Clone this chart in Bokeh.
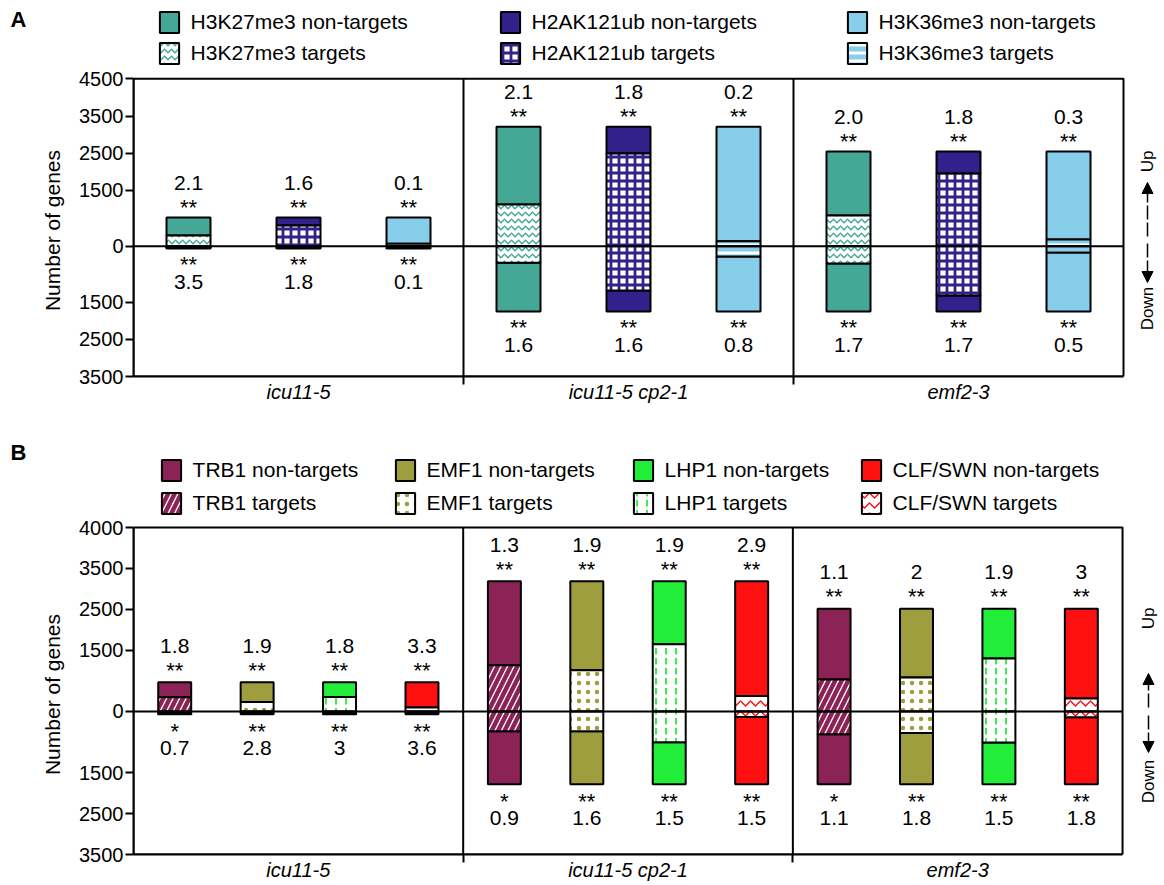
import numpy as np
from bokeh.plotting import figure
from bokeh.layouts import column, row
from bokeh.models import (ColumnDataSource, Legend, LegendItem, BoxAnnotation, Arrow,
                          NormalHead, FixedTicker, Range1d)
from bokeh.core.properties import value
from bokeh.embed import file_html
from bokeh.resources import INLINE

FONT = "Liberation Sans"

# ---------------- Panel A data ----------------
a_groups = ["icu11-5", "icu11-5 cp2-1", "emf2-3"]
a_marks = ["H3K27me3", "H2AK121ub", "H3K36me3"]
a_up_total = [770, 770, 770, 3215, 3215, 3215, 2545, 2545, 2545]
a_up_targets = [290, 560, 70, 1120, 2490, 135, 825, 1955, 180]
a_down_total = [60, 60, 60, 1755, 1755, 1755, 1755, 1755, 1755]
a_down_targets = [30, 40, 10, 440, 1190, 275, 465, 1325, 170]
a_up_fc = ["2.1", "1.6", "0.1", "2.1", "1.8", "0.2", "2.0", "1.8", "0.3"]
a_up_sig = ["**", "**", "**", "**", "**", "**", "**", "**", "**"]
a_down_fc = ["3.5", "1.8", "0.1", "1.6", "1.6", "0.8", "1.7", "1.7", "0.5"]
a_down_sig = ["**", "**", "**", "**", "**", "**", "**", "**", "**"]
a_y_ticks = [4500, 3500, 2500, 1500, 0, -1500, -2500, -3500]
a_y_tick_labels = ["4500", "3500", "2500", "1500", "0", "1500", "2500", "3500"]

# ---------------- Panel B data ----------------
b_groups = ["icu11-5", "icu11-5 cp2-1", "emf2-3"]
b_marks = ["TRB1", "EMF1", "LHP1", "CLF/SWN"]
b_up_total = [715, 715, 715, 715, 3185, 3185, 3185, 3185, 2515, 2515, 2515, 2515]
b_up_targets = [345, 230, 355, 95, 1130, 1010, 1645, 380, 780, 830, 1295, 315]
b_down_total = [70, 70, 70, 70, 1780, 1780, 1780, 1780, 1780, 1780, 1780, 1780]
b_down_targets = [40, 30, 30, 20, 485, 485, 755, 135, 560, 525, 760, 140]
b_up_fc = ["1.8", "1.9", "1.8", "3.3", "1.3", "1.9", "1.9", "2.9", "1.1", "2", "1.9", "3"]
b_up_sig = ["**", "**", "**", "**", "**", "**", "**", "**", "**", "**", "**", "**"]
b_down_fc = ["0.7", "2.8", "3", "3.6", "0.9", "1.6", "1.5", "1.5", "1.1", "1.8", "1.5", "1.8"]
b_down_sig = ["*", "**", "**", "**", "*", "**", "**", "**", "*", "**", "**", "**"]
b_y_ticks = [4500, 3500, 2500, 1500, 0, -1500, -2500, -3500]
b_y_tick_labels = ["4000", "3500", "2500", "1500", "0", "1500", "2500", "3500"]

# ---------------- styles ----------------
TEAL, NAVY, SKY = "#45A897", "#32218A", "#87CEEB"
MAROON, OLIVE, GREEN, RED = "#8B2357", "#9E9E3E", "#22EE3A", "#FF1010"

a_non_colors = [TEAL, NAVY, SKY]
a_tgt_styles = [
    dict(fill_color="white", hatch_pattern="horizontal_wave", hatch_color=TEAL, hatch_scale=7, hatch_weight=1.5),
    dict(fill_color="white", hatch_pattern="cross", hatch_color=NAVY, hatch_scale=8, hatch_weight=2.8),
    dict(fill_color=SKY, hatch_pattern="horizontal_line", hatch_color="white", hatch_scale=8, hatch_weight=3),
]
b_non_colors = [MAROON, OLIVE, GREEN, RED]
b_tgt_styles = [
    dict(fill_color="white", hatch_pattern="right_diagonal_line", hatch_color=MAROON, hatch_scale=13, hatch_weight=4.5),
    dict(fill_color="white", hatch_pattern="dot", hatch_color=OLIVE, hatch_scale=9),
    dict(fill_color="white", hatch_pattern="vertical_dash", hatch_color=GREEN, hatch_scale=10, hatch_weight=1.8),
    dict(fill_color="white", hatch_pattern="horizontal_wave", hatch_color=RED, hatch_scale=10, hatch_weight=1.5),
]

PAGE_W = 1164
STRIP_W = 70          # left strip holding the panel letter and the y-axis title
FRAME_LEFT = 133      # page x of the y axis
BAR_W = 0.4

LAYOUT_A = dict(page_top=0, height=408, border_bottom=32, px_x=110.0, px_y=0.03721,
                legend_x=[159, 500, 847], legend_rows=(21.5, 52.5), legend_spacing=5,
                letter=("A", 10, 19), ylabel_y=230, updown_x=1147, up_y=161, down_y=308,
                arrow=(182, 236, 243, 282), offs=(-34.5, -10, 16, 33.5))
LAYOUT_B = dict(page_top=408, height=477, border_bottom=31, px_x=82.42, px_y=0.040875,
                legend_x=[161, 395, 633, 861], legend_rows=(470, 503), legend_spacing=7,
                letter=("B", 10, 452), ylabel_y=694, updown_x=1148, up_y=618, down_y=781,
                arrow=(673, 707, 715, 752), offs=(-36.5, -12, 17, 33.5))


def build_panel(L, groups, marks, non_colors, tgt_styles, up_total, up_tgt, down_total,
                down_tgt, up_fc, up_sig, down_fc, down_sig, y_ticks, y_tick_labels):
    n_marks, n_groups = len(marks), len(groups)
    n = n_marks * n_groups
    xs = np.arange(n, dtype=float)
    up_total = np.array(up_total, float)
    up_tgt = np.array(up_tgt, float)
    down_total = np.array(down_total, float)
    down_tgt = np.array(down_tgt, float)

    H = L["height"]
    top = L["page_top"]
    frame_h = H - L["border_bottom"]
    frame_bottom = top + frame_h                 # page y of frame bottom
    x0 = -0.5
    x1 = x0 + (PAGE_W - FRAME_LEFT) / L["px_x"]
    y_lo, y_hi = min(y_ticks), max(y_ticks)
    y1 = y_lo + frame_h / L["px_y"]

    def ypage(Y):
        return y1 - (Y - top) / L["px_y"]

    def xpage(X):
        return x0 + (X - FRAME_LEFT) / L["px_x"]

    # ---- left strip: panel letter + y axis title (same frame height as the plot) ----
    s = figure(width=STRIP_W, height=H, x_range=Range1d(0, STRIP_W), y_range=Range1d(0, frame_h),
               x_axis_type=None, y_axis_type=None, output_backend="svg",
               toolbar_location=None, min_border_left=0, min_border_right=0,
               min_border_top=0, min_border_bottom=L["border_bottom"])
    s.outline_line_color = None
    s.xgrid.visible = False
    s.ygrid.visible = False
    letter, lx, ly = L["letter"]
    s.text(x=[lx], y=[frame_bottom - ly], text=[letter], text_font=value(FONT),
           text_font_size="22px", text_font_style="bold", text_color="black",
           text_align="left", text_baseline="alphabetic")
    s.text(x=[52], y=[frame_bottom - L["ylabel_y"]], text=["Number of genes"], angle=np.pi / 2,
           text_font=value(FONT), text_font_size="21px", text_color="black",
           text_align="center", text_baseline="middle")

    # ---- main plot ----
    p = figure(width=PAGE_W - STRIP_W, height=H, x_range=Range1d(x0, x1),
               y_range=Range1d(y_lo, y1), output_backend="svg", toolbar_location=None,
               min_border_left=FRAME_LEFT - STRIP_W, min_border_right=0, min_border_top=0,
               min_border_bottom=L["border_bottom"])
    p.outline_line_color = None
    p.xgrid.visible = False
    p.ygrid.visible = False
    p.background_fill_color = "white"

    p.add_layout(BoxAnnotation(left=-0.5, right=n - 0.5, bottom=y_lo, top=y_hi,
                               fill_color=None, line_color="black", line_alpha=1.0,
                               line_width=2))
    dividers = [(g + 1) * n_marks - 0.5 for g in range(n_groups - 1)]
    p.segment(x0=dividers, y0=[y_lo] * len(dividers), x1=dividers, y1=[y_hi] * len(dividers),
              line_color="black", line_width=2)

    r0, r1 = L["legend_rows"]
    legend_bottom = r1 + 13
    for m, name in enumerate(marks):
        idx = np.arange(m, n, n_marks)
        xx = np.concatenate([xs[idx], xs[idx]])
        zeros = np.zeros(len(idx))
        non_src = ColumnDataSource(dict(
            x=xx,
            bottom=np.concatenate([up_tgt[idx], -down_total[idx]]),
            top=np.concatenate([up_total[idx], -down_tgt[idx]])))
        tgt_src = ColumnDataSource(dict(
            x=xx,
            bottom=np.concatenate([zeros, -down_tgt[idx]]),
            top=np.concatenate([up_tgt[idx], zeros])))
        r_non = p.vbar(x="x", bottom="bottom", top="top", width=BAR_W, source=non_src,
                       fill_color=non_colors[m], line_color="black", line_width=2)
        r_tgt = p.vbar(x="x", bottom="bottom", top="top", width=BAR_W, source=tgt_src,
                       line_color="black", line_width=2, **tgt_styles[m])
        leg = Legend(items=[LegendItem(label=f"{name} non-targets", renderers=[r_non]),
                            LegendItem(label=f"{name} targets", renderers=[r_tgt])],
                     location=(L["legend_x"][m] - 2.4 - FRAME_LEFT, frame_bottom - legend_bottom),
                     orientation="vertical", glyph_width=24, glyph_height=26,
                     label_height=26, label_standoff=10, spacing=L["legend_spacing"],
                     padding=0, margin=0, border_line_color=None,
                     background_fill_alpha=0, label_text_font=FONT,
                     label_text_font_size="21px", label_text_color="black")
        p.add_layout(leg)

    p.segment(x0=[-0.5], y0=[0], x1=[n - 0.5], y1=[0], line_color="black", line_width=2)

    o_num_up, o_sig_up, o_sig_dn, o_num_dn = L["offs"]
    common = dict(text_font=value(FONT), text_align="center", text_baseline="alphabetic",
                  text_color="black")
    p.text(x=xs, y=up_total, text=list(up_fc), y_offset=o_num_up, text_font_size="21px", **common)
    p.text(x=xs, y=up_total, text=list(up_sig), y_offset=o_sig_up, text_font_size="22px", **common)
    p.text(x=xs, y=-down_total, text=list(down_sig), y_offset=o_sig_dn, text_font_size="22px", **common)
    p.text(x=xs, y=-down_total, text=list(down_fc), y_offset=o_num_dn, text_font_size="21px", **common)

    # y axis
    yax = p.yaxis[0]
    yax.ticker = FixedTicker(ticks=y_ticks, minor_ticks=[])
    yax.major_label_overrides = {t: lab for t, lab in zip(y_ticks, y_tick_labels)}
    yax.bounds = (y_lo, y_hi)
    yax.major_label_text_font = FONT
    yax.major_label_text_font_size = "20px"
    yax.major_label_text_color = "black"
    yax.major_label_standoff = 2
    yax.axis_line_width = 2
    yax.axis_line_color = "black"
    yax.major_tick_line_width = 2
    yax.major_tick_line_color = "black"
    yax.major_tick_out = 8
    yax.major_tick_in = 0

    # x axis: group names at group centres, divider ticks below the box
    centers = [float(np.mean(xs[g * n_marks:(g + 1) * n_marks])) for g in range(n_groups)]
    xax = p.xaxis[0]
    xax.ticker = FixedTicker(ticks=centers, minor_ticks=dividers)
    xax.major_label_overrides = {c: g for c, g in zip(centers, groups)}
    xax.bounds = (-0.5, n - 0.5)
    xax.major_label_text_font = FONT
    xax.major_label_text_font_size = "20px"
    xax.major_label_text_font_style = "italic"
    xax.major_label_text_color = "black"
    xax.major_label_standoff = -4
    xax.major_tick_line_color = None
    xax.major_tick_out = 0
    xax.major_tick_in = 0
    xax.minor_tick_line_color = "black"
    xax.minor_tick_line_width = 2
    xax.minor_tick_out = 8
    xax.minor_tick_in = 0
    xax.axis_line_width = 2
    xax.axis_line_color = "black"

    # Up / Down indicator
    ux = xpage(L["updown_x"])
    p.text(x=[ux, ux], y=[ypage(L["up_y"]), ypage(L["down_y"])], text=["Up", "Down"],
           angle=np.pi / 2, text_font=value(FONT), text_font_size="17px", text_color="black",
           text_align="center", text_baseline="middle")
    a_top, a_c1, a_c2, a_bot = L["arrow"]
    p.add_layout(Arrow(end=NormalHead(size=11, fill_color="black", line_color="black"),
                       x_start=ux, y_start=ypage(a_c1), x_end=ux, y_end=ypage(a_top),
                       line_width=1.5, line_color="black", line_dash="14 3"))
    p.add_layout(Arrow(end=NormalHead(size=11, fill_color="black", line_color="black"),
                       x_start=ux, y_start=ypage(a_c2), x_end=ux, y_end=ypage(a_bot),
                       line_width=1.5, line_color="black", line_dash="14 3"))
    return row(s, p, spacing=0)


pA = build_panel(LAYOUT_A, a_groups, a_marks, a_non_colors, a_tgt_styles, a_up_total,
                 a_up_targets, a_down_total, a_down_targets, a_up_fc, a_up_sig, a_down_fc,
                 a_down_sig, a_y_ticks, a_y_tick_labels)
pB = build_panel(LAYOUT_B, b_groups, b_marks, b_non_colors, b_tgt_styles, b_up_total,
                 b_up_targets, b_down_total, b_down_targets, b_up_fc, b_up_sig, b_down_fc,
                 b_down_sig, b_y_ticks, b_y_tick_labels)

layout = column(pA, pB, spacing=0)
open("out.html", "w").write(file_html(layout, INLINE))
